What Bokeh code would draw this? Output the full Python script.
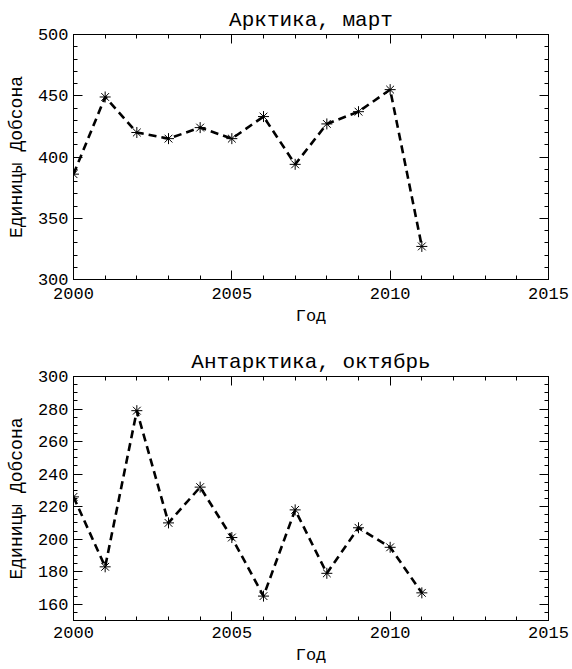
from bokeh.plotting import figure
from bokeh.models import Range1d, LinearAxis, SingleIntervalTicker, Title, ColumnDataSource
from bokeh.layouts import column
from bokeh.embed import file_html
from bokeh.resources import INLINE

years = list(range(2000, 2012))
arctic_march = [386, 449, 420, 415, 424, 415, 433, 394, 427, 437, 455, 327]
antarctic_october = [226, 183, 279, 210, 232, 201, 165, 218, 179, 207, 195, 167]

titles = ["Арктика, март", "Антарктика, октябрь"]
x_label = "Год"
y_label = "Единицы Добсона"
x_limits = (2000, 2015)
y_limits_top = (300, 500)
y_limits_bottom = (150, 300)

FONT = "Liberation Mono"


def style_axis(ax, show_labels):
    ax.axis_line_color = "black"
    ax.axis_line_width = 1
    ax.major_tick_in = 9
    ax.major_tick_out = 0
    ax.minor_tick_in = 4
    ax.minor_tick_out = 0
    ax.major_tick_line_color = "black"
    ax.minor_tick_line_color = "black"
    ax.major_label_text_font = FONT
    ax.major_label_text_color = "black"
    ax.axis_label_text_font = FONT
    ax.axis_label_text_font_style = "normal"
    ax.axis_label_text_color = "black"
    if not show_labels:
        ax.major_label_text_font_size = "1px"
        ax.major_label_text_color = None
        ax.major_label_standoff = 0


def make_fig(values, title, ylim, y_int, y_minor, h, b_top, b_bottom,
             tick_standoff, xlabel_standoff):
    p = figure(width=572, height=h,
               x_range=Range1d(*x_limits), y_range=Range1d(*ylim),
               output_backend="svg", toolbar_location=None,
               min_border_left=73, min_border_right=24,
               min_border_top=b_top, min_border_bottom=b_bottom)
    p.background_fill_color = "white"
    p.border_fill_color = "white"
    p.outline_line_color = "black"
    p.xgrid.visible = False
    p.ygrid.visible = False

    xt = SingleIntervalTicker(interval=5, num_minor_ticks=5)
    yt = SingleIntervalTicker(interval=y_int, num_minor_ticks=y_minor)

    p.xaxis.ticker = xt
    p.yaxis.ticker = yt
    for ax in p.xaxis:
        style_axis(ax, True)
        ax.major_label_text_font_size = "17px"
        ax.major_label_standoff = tick_standoff
        ax.axis_label = x_label
        ax.axis_label_text_font_size = "17px"
        ax.axis_label_standoff = xlabel_standoff
    for ax in p.yaxis:
        style_axis(ax, True)
        ax.major_label_text_font_size = "17px"
        ax.major_label_standoff = 5
        ax.axis_label = y_label
        ax.axis_label_text_font_size = "18px"
        ax.axis_label_standoff = 8

    top_ax = LinearAxis(ticker=xt)
    style_axis(top_ax, False)
    right_ax = LinearAxis(ticker=yt)
    style_axis(right_ax, False)
    p.add_layout(top_ax, "above")
    p.add_layout(right_ax, "right")

    p.title = Title(text=title, align="center", text_font=FONT,
                    text_font_size="21px", text_font_style="normal",
                    text_color="black", standoff=5, offset=0)

    src = ColumnDataSource(dict(x=years, y=values))
    p.line("x", "y", source=src, line_color="black", line_width=2.6,
           line_dash="8 5")
    p.scatter("x", "y", source=src, marker="asterisk", size=11,
              line_color="black", line_width=1)
    return p


p1 = make_fig(arctic_march, titles[0], y_limits_top, 50, 5, 330, 34, 51, 8, 5)
p2 = make_fig(antarctic_october, titles[1], y_limits_bottom, 20, 4, 339, 46, 49, 6, 5)

layout = column(p1, p2, spacing=0)
open("out.html", "w").write(file_html(layout, INLINE))
